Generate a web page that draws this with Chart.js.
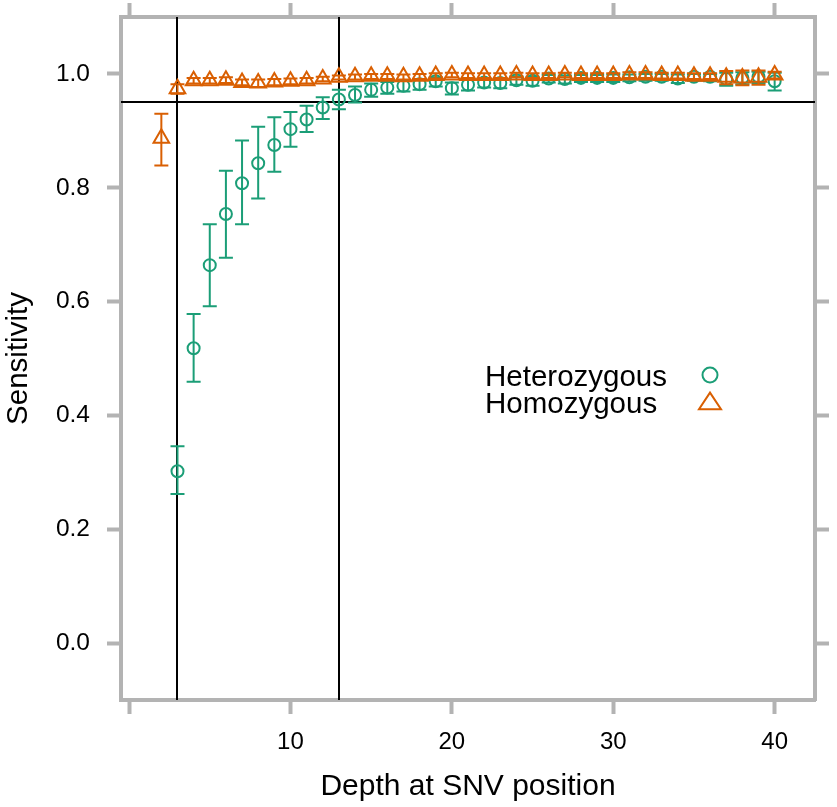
<!DOCTYPE html>
<html><head><meta charset="utf-8">
<script src="https://cdn.jsdelivr.net/npm/chart.js@4.4.0/dist/chart.umd.min.js"></script>
<style>html,body{margin:0;padding:0;background:#fff;}#wrap{width:837px;height:807px;}</style>
</head><body><div id="wrap"><canvas id="c" width="837" height="807"></canvas></div>
<script>
// ---------------- data ----------------
const hetDepth = [3,4,5,6,7,8,9,10,11,12,13,14,15,16,17,18,19,20,21,22,23,24,25,26,27,28,29,30,31,32,33,34,35,36,37,38,39,40];
const hetSens  = [0.302,0.518,0.664,0.754,0.808,0.843,0.875,0.903,0.920,0.941,0.955,0.963,0.972,0.976,0.979,0.982,0.987,0.975,0.981,0.985,0.984,0.989,0.988,0.992,0.991,0.993,0.993,0.993,0.994,0.995,0.995,0.992,0.995,0.995,0.991,0.993,0.995,0.987];
const hetLower = [0.262,0.459,0.592,0.677,0.736,0.781,0.828,0.872,0.898,0.921,0.938,0.950,0.960,0.965,0.969,0.972,0.978,0.964,0.971,0.976,0.975,0.981,0.979,0.985,0.983,0.986,0.986,0.986,0.987,0.988,0.988,0.984,0.988,0.987,0.979,0.982,0.984,0.971];
const hetUpper = [0.346,0.578,0.736,0.830,0.883,0.907,0.924,0.933,0.944,0.959,0.972,0.978,0.983,0.986,0.988,0.990,0.994,0.985,0.990,0.993,0.992,0.996,0.995,0.998,0.997,0.998,0.998,0.999,0.999,1.000,1.000,0.999,1.000,1.000,1.002,1.003,1.004,1.002];

const homDepth = [2,3,4,5,6,7,8,9,10,11,12,13,14,15,16,17,18,19,20,21,22,23,24,25,26,27,28,29,30,31,32,33,34,35,36,37,38,39,40];
const homSens  = [0.887,0.974,0.988,0.988,0.989,0.985,0.984,0.986,0.987,0.988,0.991,0.994,0.995,0.996,0.996,0.995,0.996,0.997,0.998,0.997,0.997,0.997,0.998,0.997,0.997,0.998,0.997,0.997,0.997,0.998,0.998,0.997,0.997,0.996,0.996,0.994,0.993,0.994,0.998];
const homLower = [0.839,0.965,0.983,0.983,0.984,0.980,0.977,0.980,0.982,0.983,0.987,0.990,0.990,0.991,0.991,0.990,0.991,0.992,0.994,0.993,0.993,0.993,0.994,0.993,0.993,0.994,0.993,0.993,0.993,0.993,0.993,0.992,0.992,0.991,0.991,0.982,0.980,0.981,0.992];
const homUpper = [0.930,0.982,0.993,0.993,0.994,0.990,0.990,0.991,0.992,0.993,0.995,0.997,0.999,1.000,1.000,0.999,1.000,1.001,1.002,1.001,1.001,1.001,1.002,1.001,1.001,1.002,1.001,1.001,1.001,1.003,1.003,1.002,1.002,1.001,1.001,1.005,1.006,1.006,1.004];

const seriesNames = ['Heterozygous','Homozygous'];
const xTicks = [0,10,20,30,40];
const xTickLabels = ['','10','20','30','40'];
const yTicks = [0,0.2,0.4,0.6,0.8,1.0];
const yTickLabels = ['0.0','0.2','0.4','0.6','0.8','1.0'];
const refDepths = [3,13];
const refSens = [0.95];
const xRange = [-0.5, 42.5];
const yRange = [-0.1, 1.1];
const xTitle = 'Depth at SNV position';
const yTitle = 'Sensitivity';

// ---------------- styles ----------------
const GREEN = '#1b9e77', ORANGE = '#d95f02', FRAME = '#b3b3b3';
const FONT = "'Liberation Sans', Arial, sans-serif";

const toPts = (xs, ys) => xs.map((x, i) => ({x: x, y: ys[i]}));

const errorBars = {
  id: 'errorBars',
  beforeDatasetDraw(chart, args) {
    const ds = chart.data.datasets[args.index];
    if (!ds.errLow) return;
    const ctx = chart.ctx, xs = chart.scales.x, ys = chart.scales.y, ca = chart.chartArea;
    ctx.save();
    ctx.beginPath(); ctx.rect(ca.left, ca.top, ca.right - ca.left, ca.bottom - ca.top); ctx.clip();
    ctx.strokeStyle = ds.borderColor; ctx.lineWidth = 2;
    ds.data.forEach((p, i) => {
      const px = xs.getPixelForValue(p.x);
      const lo = ys.getPixelForValue(ds.errLow[i]);
      const hi = ys.getPixelForValue(ds.errHigh[i]);
      const w = 7;
      ctx.beginPath();
      ctx.moveTo(px, lo); ctx.lineTo(px, hi);
      ctx.moveTo(px - w, lo); ctx.lineTo(px + w, lo);
      ctx.moveTo(px - w, hi); ctx.lineTo(px + w, hi);
      ctx.stroke();
    });
    ctx.restore();
  }
};

const refLines = {
  id: 'refLines',
  beforeDatasetsDraw(chart) {
    const ctx = chart.ctx, xs = chart.scales.x, ys = chart.scales.y, ca = chart.chartArea;
    ctx.save();
    ctx.strokeStyle = '#000'; ctx.lineWidth = 2;
    refDepths.forEach(d => {
      const px = Math.round(xs.getPixelForValue(d));
      ctx.beginPath(); ctx.moveTo(px, ca.top); ctx.lineTo(px, ca.bottom); ctx.stroke();
    });
    refSens.forEach(v => {
      const py = Math.round(ys.getPixelForValue(v));
      ctx.beginPath(); ctx.moveTo(ca.left, py); ctx.lineTo(ca.right, py); ctx.stroke();
    });
    ctx.restore();
  }
};

const keyLegend = {
  id: 'keyLegend',
  afterDraw(chart) {
    const ctx = chart.ctx;
    ctx.save();
    ctx.font = "29.5px " + FONT;
    ctx.fillStyle = '#000';
    ctx.textBaseline = 'alphabetic';
    ctx.textAlign = 'left';
    const tx = 485, sx = 710, rows = [375, 402];
    chart.data.datasets.forEach((ds, i) => {
      const cy = rows[i];
      ctx.fillText(ds.label, tx, cy + 10.5);
      ctx.strokeStyle = ds.borderColor; ctx.lineWidth = 2;
      ctx.beginPath();
      if (ds.pointStyle === 'circle') {
        ctx.arc(sx, cy, 7.5, 0, Math.PI * 2);
      } else {
        const r = 11;
        ctx.moveTo(sx, cy - r * 0.85);
        ctx.lineTo(sx + r * 1.0, cy + r * 0.65);
        ctx.lineTo(sx - r * 1.0, cy + r * 0.65);
        ctx.closePath();
      }
      ctx.stroke();
    });
    ctx.restore();
  }
};

const gridOpts = {drawOnChartArea: false, drawTicks: true, tickLength: 14, tickWidth: 4, tickColor: FRAME, color: FRAME};
const borderOpts = {display: true, color: FRAME, width: 4};
const noPad = s => { s.paddingTop = 0; s.paddingBottom = 0; s.paddingLeft = 0; s.paddingRight = 0; };

new Chart(document.getElementById('c'), {
  type: 'scatter',
  data: {
    datasets: [
      {
        label: seriesNames[0], data: toPts(hetDepth, hetSens),
        errLow: hetLower, errHigh: hetUpper,
        pointStyle: 'circle', radius: 6, borderWidth: 2,
        borderColor: GREEN, backgroundColor: 'rgba(0,0,0,0)', order: 1
      },
      {
        label: seriesNames[1], data: toPts(homDepth, homSens),
        errLow: homLower, errHigh: homUpper,
        pointStyle: 'triangle', radius: 9, borderWidth: 2,
        borderColor: ORANGE, backgroundColor: 'rgba(0,0,0,0)', order: 0
      }
    ]
  },
  options: {
    responsive: false, animation: false, devicePixelRatio: 1, events: [],
    layout: {padding: 0},
    plugins: {legend: {display: false}, tooltip: {enabled: false}},
    scales: {
      x: {
        type: 'linear', position: 'bottom', min: xRange[0], max: xRange[1],
        afterBuildTicks: s => { s.ticks = xTicks.map(v => ({value: v})); },
        afterFit: s => { s.height = 107; noPad(s); },
        ticks: {callback: (v, i) => xTickLabels[i], color: '#000', font: {family: FONT, size: 24}, padding: 14, maxRotation: 0, autoSkip: false},
        grid: gridOpts, border: borderOpts,
        title: {display: true, text: xTitle, color: '#000', font: {family: FONT, size: 30}, padding: {top: 0, bottom: 2}}
      },
      x2: {
        type: 'linear', axis: 'x', position: 'top', min: xRange[0], max: xRange[1],
        afterBuildTicks: s => { s.ticks = xTicks.map(v => ({value: v})); },
        afterFit: s => { s.height = 17; noPad(s); },
        ticks: {display: false}, grid: gridOpts, border: borderOpts
      },
      y: {
        type: 'linear', position: 'left', min: yRange[0], max: yRange[1],
        afterBuildTicks: s => { s.ticks = yTicks.map(v => ({value: v})); },
        afterFit: s => { s.width = 121; noPad(s); },
        ticks: {callback: (v, i) => yTickLabels[i], color: '#000', font: {family: FONT, size: 24.5}, padding: 17, autoSkip: false},
        grid: gridOpts, border: borderOpts,
        title: {display: true, text: yTitle, color: '#000', font: {family: FONT, size: 29.5}, padding: {top: 1, bottom: 0}}
      },
      y2: {
        type: 'linear', axis: 'y', position: 'right', min: yRange[0], max: yRange[1],
        afterBuildTicks: s => { s.ticks = yTicks.map(v => ({value: v})); },
        afterFit: s => { s.width = 22; noPad(s); },
        ticks: {display: false}, grid: gridOpts, border: borderOpts
      }
    }
  },
  plugins: [refLines, errorBars, keyLegend]
});
</script>
</body></html>
